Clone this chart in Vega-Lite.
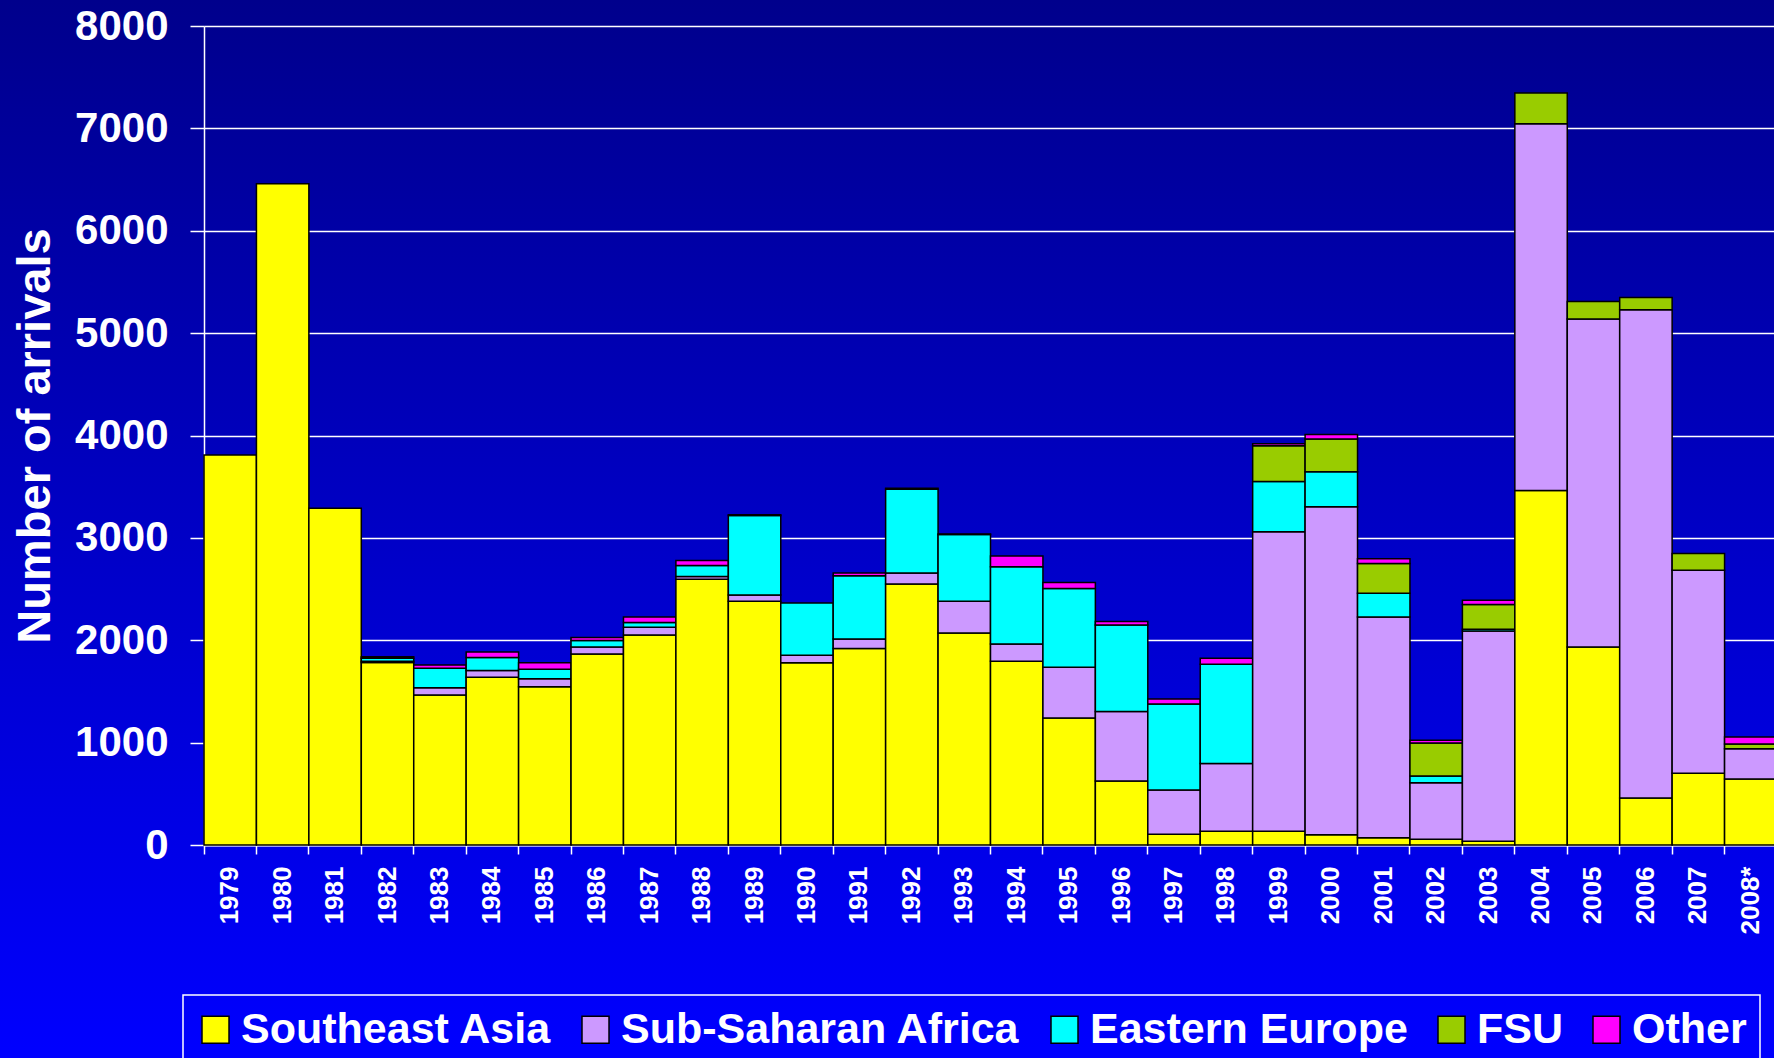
{
  "$schema": "https://vega.github.io/schema/vega-lite/v6.json",
  "width": 1774,
  "height": 1058,
  "autosize": {"type": "none"},
  "padding": 0,
  "background": "#0000F8",
  "config": {
    "font": "Liberation Sans",
    "legend": {"strokeWidth": 1.5, "strokeColor": "white"},
    "view": {
      "stroke": null,
      "fill": {"gradient": "linear", "x1": 0, "y1": 0, "x2": 0, "y2": 1,
        "stops": [{"offset": 0, "color": "#00008C"}, {"offset": 1, "color": "#0000FF"}]}
    }
  },
  "data": {
    "values": [
      {"year": "1979", "region": "Southeast Asia", "n": 3810, "k": 1},
      {"year": "1980", "region": "Southeast Asia", "n": 6460, "k": 1},
      {"year": "1981", "region": "Southeast Asia", "n": 3290, "k": 1},
      {"year": "1982", "region": "Southeast Asia", "n": 1782, "k": 1},
      {"year": "1982", "region": "Sub-Saharan Africa", "n": 12, "k": 2},
      {"year": "1982", "region": "Eastern Europe", "n": 30, "k": 3},
      {"year": "1982", "region": "FSU", "n": 16, "k": 4},
      {"year": "1983", "region": "Southeast Asia", "n": 1466, "k": 1},
      {"year": "1983", "region": "Sub-Saharan Africa", "n": 71, "k": 2},
      {"year": "1983", "region": "Eastern Europe", "n": 189, "k": 3},
      {"year": "1983", "region": "Other", "n": 33, "k": 5},
      {"year": "1984", "region": "Southeast Asia", "n": 1638, "k": 1},
      {"year": "1984", "region": "Sub-Saharan Africa", "n": 66, "k": 2},
      {"year": "1984", "region": "Eastern Europe", "n": 127, "k": 3},
      {"year": "1984", "region": "Other", "n": 55, "k": 5},
      {"year": "1985", "region": "Southeast Asia", "n": 1547, "k": 1},
      {"year": "1985", "region": "Sub-Saharan Africa", "n": 78, "k": 2},
      {"year": "1985", "region": "Eastern Europe", "n": 92, "k": 3},
      {"year": "1985", "region": "Other", "n": 62, "k": 5},
      {"year": "1986", "region": "Southeast Asia", "n": 1866, "k": 1},
      {"year": "1986", "region": "Sub-Saharan Africa", "n": 69, "k": 2},
      {"year": "1986", "region": "Eastern Europe", "n": 62, "k": 3},
      {"year": "1986", "region": "Other", "n": 29, "k": 5},
      {"year": "1987", "region": "Southeast Asia", "n": 2052, "k": 1},
      {"year": "1987", "region": "Sub-Saharan Africa", "n": 75, "k": 2},
      {"year": "1987", "region": "Eastern Europe", "n": 46, "k": 3},
      {"year": "1987", "region": "Other", "n": 55, "k": 5},
      {"year": "1988", "region": "Southeast Asia", "n": 2596, "k": 1},
      {"year": "1988", "region": "Sub-Saharan Africa", "n": 26, "k": 2},
      {"year": "1988", "region": "Eastern Europe", "n": 108, "k": 3},
      {"year": "1988", "region": "Other", "n": 49, "k": 5},
      {"year": "1989", "region": "Southeast Asia", "n": 2381, "k": 1},
      {"year": "1989", "region": "Sub-Saharan Africa", "n": 62, "k": 2},
      {"year": "1989", "region": "Eastern Europe", "n": 775, "k": 3},
      {"year": "1989", "region": "Other", "n": 7, "k": 5},
      {"year": "1990", "region": "Southeast Asia", "n": 1779, "k": 1},
      {"year": "1990", "region": "Sub-Saharan Africa", "n": 74, "k": 2},
      {"year": "1990", "region": "Eastern Europe", "n": 512, "k": 3},
      {"year": "1991", "region": "Southeast Asia", "n": 1919, "k": 1},
      {"year": "1991", "region": "Sub-Saharan Africa", "n": 94, "k": 2},
      {"year": "1991", "region": "Eastern Europe", "n": 616, "k": 3},
      {"year": "1991", "region": "Other", "n": 29, "k": 5},
      {"year": "1992", "region": "Southeast Asia", "n": 2550, "k": 1},
      {"year": "1992", "region": "Sub-Saharan Africa", "n": 108, "k": 2},
      {"year": "1992", "region": "Eastern Europe", "n": 818, "k": 3},
      {"year": "1992", "region": "Other", "n": 9, "k": 5},
      {"year": "1993", "region": "Southeast Asia", "n": 2072, "k": 1},
      {"year": "1993", "region": "Sub-Saharan Africa", "n": 309, "k": 2},
      {"year": "1993", "region": "Eastern Europe", "n": 652, "k": 3},
      {"year": "1993", "region": "Other", "n": 6, "k": 5},
      {"year": "1994", "region": "Southeast Asia", "n": 1795, "k": 1},
      {"year": "1994", "region": "Sub-Saharan Africa", "n": 169, "k": 2},
      {"year": "1994", "region": "Eastern Europe", "n": 753, "k": 3},
      {"year": "1994", "region": "Other", "n": 107, "k": 5},
      {"year": "1995", "region": "Southeast Asia", "n": 1241, "k": 1},
      {"year": "1995", "region": "Sub-Saharan Africa", "n": 495, "k": 2},
      {"year": "1995", "region": "Eastern Europe", "n": 769, "k": 3},
      {"year": "1995", "region": "Other", "n": 59, "k": 5},
      {"year": "1996", "region": "Southeast Asia", "n": 625, "k": 1},
      {"year": "1996", "region": "Sub-Saharan Africa", "n": 678, "k": 2},
      {"year": "1996", "region": "Eastern Europe", "n": 847, "k": 3},
      {"year": "1996", "region": "Other", "n": 32, "k": 5},
      {"year": "1997", "region": "Southeast Asia", "n": 104, "k": 1},
      {"year": "1997", "region": "Sub-Saharan Africa", "n": 433, "k": 2},
      {"year": "1997", "region": "Eastern Europe", "n": 841, "k": 3},
      {"year": "1997", "region": "Other", "n": 49, "k": 5},
      {"year": "1998", "region": "Southeast Asia", "n": 134, "k": 1},
      {"year": "1998", "region": "Sub-Saharan Africa", "n": 661, "k": 2},
      {"year": "1998", "region": "Eastern Europe", "n": 970, "k": 3},
      {"year": "1998", "region": "Other", "n": 59, "k": 5},
      {"year": "1999", "region": "Southeast Asia", "n": 134, "k": 1},
      {"year": "1999", "region": "Sub-Saharan Africa", "n": 2925, "k": 2},
      {"year": "1999", "region": "Eastern Europe", "n": 491, "k": 3},
      {"year": "1999", "region": "FSU", "n": 349, "k": 4},
      {"year": "1999", "region": "Other", "n": 20, "k": 5},
      {"year": "2000", "region": "Southeast Asia", "n": 101, "k": 1},
      {"year": "2000", "region": "Sub-Saharan Africa", "n": 3202, "k": 2},
      {"year": "2000", "region": "Eastern Europe", "n": 342, "k": 3},
      {"year": "2000", "region": "FSU", "n": 322, "k": 4},
      {"year": "2000", "region": "Other", "n": 43, "k": 5},
      {"year": "2001", "region": "Southeast Asia", "n": 72, "k": 1},
      {"year": "2001", "region": "Sub-Saharan Africa", "n": 2156, "k": 2},
      {"year": "2001", "region": "Eastern Europe", "n": 231, "k": 3},
      {"year": "2001", "region": "FSU", "n": 290, "k": 4},
      {"year": "2001", "region": "Other", "n": 46, "k": 5},
      {"year": "2002", "region": "Southeast Asia", "n": 55, "k": 1},
      {"year": "2002", "region": "Sub-Saharan Africa", "n": 554, "k": 2},
      {"year": "2002", "region": "Eastern Europe", "n": 65, "k": 3},
      {"year": "2002", "region": "FSU", "n": 323, "k": 4},
      {"year": "2002", "region": "Other", "n": 26, "k": 5},
      {"year": "2003", "region": "Southeast Asia", "n": 36, "k": 1},
      {"year": "2003", "region": "Sub-Saharan Africa", "n": 2055, "k": 2},
      {"year": "2003", "region": "Eastern Europe", "n": 16, "k": 3},
      {"year": "2003", "region": "FSU", "n": 242, "k": 4},
      {"year": "2003", "region": "Other", "n": 42, "k": 5},
      {"year": "2004", "region": "Southeast Asia", "n": 3463, "k": 1},
      {"year": "2004", "region": "Sub-Saharan Africa", "n": 3583, "k": 2},
      {"year": "2004", "region": "FSU", "n": 299, "k": 4},
      {"year": "2005", "region": "Southeast Asia", "n": 1935, "k": 1},
      {"year": "2005", "region": "Sub-Saharan Africa", "n": 3202, "k": 2},
      {"year": "2005", "region": "FSU", "n": 172, "k": 4},
      {"year": "2006", "region": "Southeast Asia", "n": 459, "k": 1},
      {"year": "2006", "region": "Sub-Saharan Africa", "n": 4769, "k": 2},
      {"year": "2006", "region": "FSU", "n": 121, "k": 4},
      {"year": "2007", "region": "Southeast Asia", "n": 700, "k": 1},
      {"year": "2007", "region": "Sub-Saharan Africa", "n": 1984, "k": 2},
      {"year": "2007", "region": "FSU", "n": 163, "k": 4},
      {"year": "2008*", "region": "Southeast Asia", "n": 645, "k": 1},
      {"year": "2008*", "region": "Sub-Saharan Africa", "n": 296, "k": 2},
      {"year": "2008*", "region": "FSU", "n": 46, "k": 4},
      {"year": "2008*", "region": "Other", "n": 68, "k": 5}
    ]
  },
  "mark": {"type": "bar", "stroke": "black", "strokeWidth": 1.5},
  "encoding": {
    "x": {
      "field": "year", "type": "ordinal", "sort": null,
      "scale": {"paddingInner": 0, "paddingOuter": 0, "range": [204, 1777]},
      "axis": {
        "title": null, "offset": -213, "bandPosition": 0, "labelAngle": 270,
        "labelFontSize": 26, "labelFontWeight": "bold", "labelColor": "white",
        "labelPadding": 12, "tickSize": 9, "tickColor": "white", "tickWidth": 1.5,
        "domainColor": "white", "domainWidth": 2,
        "labelOverlap": false, "labelBound": false, "labelFlush": false
      }
    },
    "y": {
      "field": "n", "type": "quantitative", "stack": "zero",
      "scale": {"domain": [0, 8000], "nice": false, "range": [845, 26]},
      "axis": {
        "title": "Number of arrivals", "titleFontSize": 47, "titleFontWeight": "bold",
        "titleColor": "white", "titlePadding": 15, "offset": -204,
        "values": [0, 1000, 2000, 3000, 4000, 5000, 6000, 7000, 8000],
        "format": "d",
        "labelFontSize": 42, "labelFontWeight": "bold", "labelColor": "white",
        "labelPadding": 22, "labelFlush": false, "labelOverlap": false,
        "tickSize": 14, "tickColor": "white", "tickWidth": 1.5,
        "grid": true, "gridColor": "white", "gridWidth": 1.5, "gridOpacity": 1,
        "domainColor": "white", "domainWidth": 1.5
      }
    },
    "color": {
      "field": "region", "type": "nominal",
      "scale": {
        "domain": ["Southeast Asia", "Sub-Saharan Africa", "Eastern Europe", "FSU", "Other"],
        "range": ["#FFFF00", "#CC99FF", "#00FFFF", "#99CC00", "#FF00FF"]
      },
      "legend": {
        "orient": "none", "legendX": 183, "legendY": 995, "direction": "horizontal",
        "title": null, "symbolType": "square", "symbolSize": 729,
        "symbolStrokeColor": "black", "symbolStrokeWidth": 1.5, "symbolOpacity": 1,
        "labelFontSize": 43, "labelFontWeight": "bold", "labelColor": "white",
        "labelOffset": 4, "columnPadding": 24, "padding": 13, "symbolOffset": -2,
        "labelLimit": 800, "strokeColor": "white"
      }
    },
    "order": {"field": "k", "type": "quantitative", "sort": "ascending"}
  }
}
